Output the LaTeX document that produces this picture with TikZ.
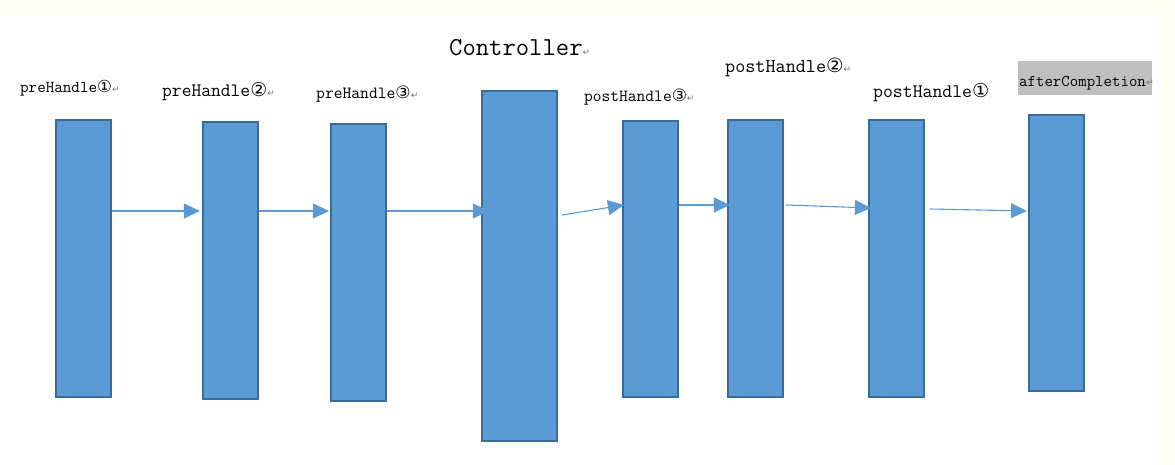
\documentclass[tikz,border=0pt]{standalone}
\usepackage{fontspec}
\usetikzlibrary{arrows.meta,calc}
\newfontfamily\monof{Latin Modern Mono}
\newfontfamily\djf{DejaVu Sans}
\definecolor{boxfill}{HTML}{5B9BD5}
\definecolor{boxedge}{HTML}{3A6A98}
\definecolor{arrcol}{HTML}{5B9BD5}
\definecolor{cream}{RGB}{255,255,242}
\definecolor{hilite}{HTML}{BFBFBF}
\newcommand{\retmark}{{\djf\fontsize{9}{9}\selectfont\color{black!55}↵}}
\newcommand{\cnum}[1]{{\djf\fontsize{1em}{1em}\selectfont #1}}
\tikzset{
  stage/.style={draw=boxedge, fill=boxfill, line width=2.2pt, inner sep=0pt,
    minimum width=55pt, minimum height=277pt},
  arr/.style={draw=arrcol, line width=1.1pt,
    -{Triangle[length=16pt,width=15pt]}},
  lbl/.style={anchor=west, inner sep=0pt, font=\monof},
}
\begin{document}
\begin{tikzpicture}[x=1pt,y=-1pt]
\useasboundingbox (0,0) rectangle (1175,465);
\fill[white] (0,0) rectangle (1175,465);
\fill[cream] (0,0) rectangle (1175,14);
\fill[cream] (1163,0) rectangle (1175,465);

% stages
\node[stage] (b1) at (83.5,258.5) {};
\node[stage] (b2) at (230.5,260.5) {};
\node[stage] (b3) at (358.5,262.5) {};
\node[stage, minimum width=75pt, minimum height=350pt] (b4) at (519.5,266) {};
\node[stage, minimum height=276pt] (b5) at (650.5,259) {};
\node[stage] (b6) at (755.5,258.5) {};
\node[stage] (b7) at (896.5,258.5) {};
\node[stage, minimum height=276pt] (b8) at (1056.5,253) {};

% labels
\node[lbl, font=\monof\fontsize{16.6}{18}\selectfont] (t1) at (20,88) {preHandle\cnum{①}\retmark};
\node[lbl, font=\monof\fontsize{19}{20}\selectfont] (t2) at (162,92) {preHandle\cnum{②}\retmark};
\node[lbl, font=\monof\fontsize{17.1}{18}\selectfont] (t3) at (316,94) {preHandle\cnum{③}\retmark};
\node[lbl, font=\monof\fontsize{25.9}{28}\selectfont] (t4) at (449,48) {Controller\retmark};
\node[lbl, font=\monof\fontsize{17}{18}\selectfont] (t5) at (584,97) {postHandle\cnum{③}\retmark};
\node[lbl, font=\monof\fontsize{19.6}{20}\selectfont] (t6) at (725,67) {postHandle\cnum{②}\retmark};
\node[lbl, font=\monof\fontsize{19.2}{20}\selectfont] (t7) at (873,93) {postHandle\cnum{①}{\djf\fontsize{6}{6}\selectfont\color{gray}.}};
\node[anchor=west, fill=hilite, inner sep=0pt, minimum width=134pt, minimum height=34pt] (hl) at (1018,78) {};
\node[lbl, font=\monof\fontsize{16.4}{18}\selectfont] (t8) at (1019,83) {afterCompletion};
\node[anchor=west, inner sep=0pt] (r8) at (t8.east) {\retmark};

% connectors
\draw[arr] (b1.east |- 0,211) -- ([xshift=-2pt]b2.west |- 0,211);
\draw[arr] (b2.east |- 0,211) -- ([xshift=-1pt]b3.west |- 0,211);
\draw[arr] (b3.east |- 0,211) -- ([xshift=8pt]b4.west |- 0,211);
\draw[arr] ([xshift=4pt]b4.east |- 0,215) -- ([xshift=2pt]b5.west |- 0,205);
\draw[arr] (b5.east |- 0,205) -- ([xshift=3pt]b6.west |- 0,205);
\draw[arr] ([xshift=2pt]b6.east |- 0,205) -- ([xshift=3pt]b7.west |- 0,208);
\draw[arr] ([xshift=5pt]b7.east |- 0,209) -- ([xshift=-1pt]b8.west |- 0,211);
\end{tikzpicture}
\end{document}
